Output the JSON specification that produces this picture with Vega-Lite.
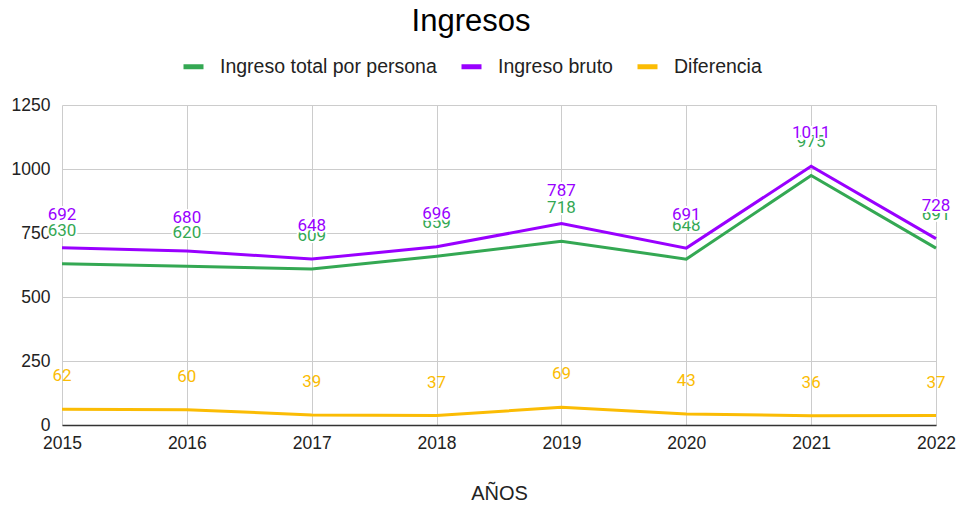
{
  "$schema": "https://vega.github.io/schema/vega-lite/v6.json",
  "width": 874,
  "height": 320,
  "autosize": {"type": "none"},
  "padding": {"left": 62, "top": 105, "right": 25, "bottom": 81},
  "config": {"font": "Liberation Sans", "view": {"stroke": null}},
  "title": {"text": "Ingresos", "fontSize": 31, "font": "Liberation Sans", "fontWeight": "normal", "color": "#000000", "anchor": "middle", "dx": -28, "offset": 16},
  "data": {
    "values": [
      {"year": "2015", "series": "Ingreso total por persona", "value": 630},
      {"year": "2016", "series": "Ingreso total por persona", "value": 620},
      {"year": "2017", "series": "Ingreso total por persona", "value": 609},
      {"year": "2018", "series": "Ingreso total por persona", "value": 659},
      {"year": "2019", "series": "Ingreso total por persona", "value": 718},
      {"year": "2020", "series": "Ingreso total por persona", "value": 648},
      {"year": "2021", "series": "Ingreso total por persona", "value": 975},
      {"year": "2022", "series": "Ingreso total por persona", "value": 691},
      {"year": "2015", "series": "Ingreso bruto", "value": 692},
      {"year": "2016", "series": "Ingreso bruto", "value": 680},
      {"year": "2017", "series": "Ingreso bruto", "value": 648},
      {"year": "2018", "series": "Ingreso bruto", "value": 696},
      {"year": "2019", "series": "Ingreso bruto", "value": 787},
      {"year": "2020", "series": "Ingreso bruto", "value": 691},
      {"year": "2021", "series": "Ingreso bruto", "value": 1011},
      {"year": "2022", "series": "Ingreso bruto", "value": 728},
      {"year": "2015", "series": "Diferencia", "value": 62},
      {"year": "2016", "series": "Diferencia", "value": 60},
      {"year": "2017", "series": "Diferencia", "value": 39},
      {"year": "2018", "series": "Diferencia", "value": 37},
      {"year": "2019", "series": "Diferencia", "value": 69},
      {"year": "2020", "series": "Diferencia", "value": 43},
      {"year": "2021", "series": "Diferencia", "value": 36},
      {"year": "2022", "series": "Diferencia", "value": 37}
    ]
  },
  "encoding": {
    "x": {
      "field": "year",
      "type": "ordinal",
      "scale": {"type": "point", "padding": 0},
      "axis": {
        "title": "AÑOS",
        "titleFontSize": 20,
        "titleFontWeight": "normal",
        "titleColor": "#222222",
        "titlePadding": 32,
        "labelAngle": 0,
        "labelFontSize": 17.5,
        "labelColor": "#222222",
        "labelPadding": 9,
        "ticks": false,
        "grid": true,
        "gridColor": "#cccccc",
        "domainColor": "#333333",
        "domainWidth": 1.5
      }
    },
    "y": {
      "field": "value",
      "type": "quantitative",
      "scale": {"domain": [0, 1250], "nice": false},
      "axis": {
        "title": null,
        "values": [0, 250, 500, 750, 1000, 1250],
        "format": "d",
        "labelFontSize": 17.5,
        "labelColor": "#222222",
        "labelPadding": 12,
        "ticks": false,
        "domain": false,
        "gridColor": "#cccccc"
      }
    },
    "color": {
      "field": "series",
      "type": "nominal",
      "scale": {
        "domain": ["Ingreso total por persona", "Ingreso bruto", "Diferencia"],
        "range": ["#34a853", "#9900ff", "#fbbc04"]
      },
      "legend": {
        "orient": "none",
        "legendX": 119,
        "legendY": -51,
        "direction": "horizontal",
        "title": null,
        "symbolType": "stroke",
        "symbolStrokeWidth": 5,
        "symbolSize": 400,
        "labelFontSize": 19.5,
        "labelColor": "#222222",
        "labelOffset": 14,
        "labelLimit": 400,
        "columnPadding": 14
      }
    }
  },
  "layer": [
    {"mark": {"type": "line", "strokeWidth": 3}},
    {
      "transform": [{"filter": "datum.series === 'Ingreso total por persona'"}],
      "mark": {"type": "text", "dy": -33, "fontSize": 17, "font": "Roboto", "stroke": "#ffffff", "strokeWidth": 4, "fill": "#ffffff"},
      "encoding": {"text": {"field": "value", "type": "quantitative"}, "color": {"value": "#ffffff"}}
    },
    {
      "transform": [{"filter": "datum.series === 'Ingreso total por persona'"}],
      "mark": {"type": "text", "dy": -33, "fontSize": 17, "font": "Roboto"},
      "encoding": {"text": {"field": "value", "type": "quantitative"}}
    },
    {
      "transform": [{"filter": "datum.series === 'Ingreso bruto'"}],
      "mark": {"type": "text", "dy": -33, "fontSize": 17, "font": "Roboto", "stroke": "#ffffff", "strokeWidth": 4, "fill": "#ffffff"},
      "encoding": {"text": {"field": "value", "type": "quantitative"}, "color": {"value": "#ffffff"}}
    },
    {
      "transform": [{"filter": "datum.series === 'Ingreso bruto'"}],
      "mark": {"type": "text", "dy": -33, "fontSize": 17, "font": "Roboto"},
      "encoding": {"text": {"field": "value", "type": "quantitative"}}
    },
    {
      "transform": [{"filter": "datum.series === 'Diferencia'"}],
      "mark": {"type": "text", "dy": -33, "fontSize": 17, "font": "Roboto"},
      "encoding": {"text": {"field": "value", "type": "quantitative"}}
    }
  ]
}
